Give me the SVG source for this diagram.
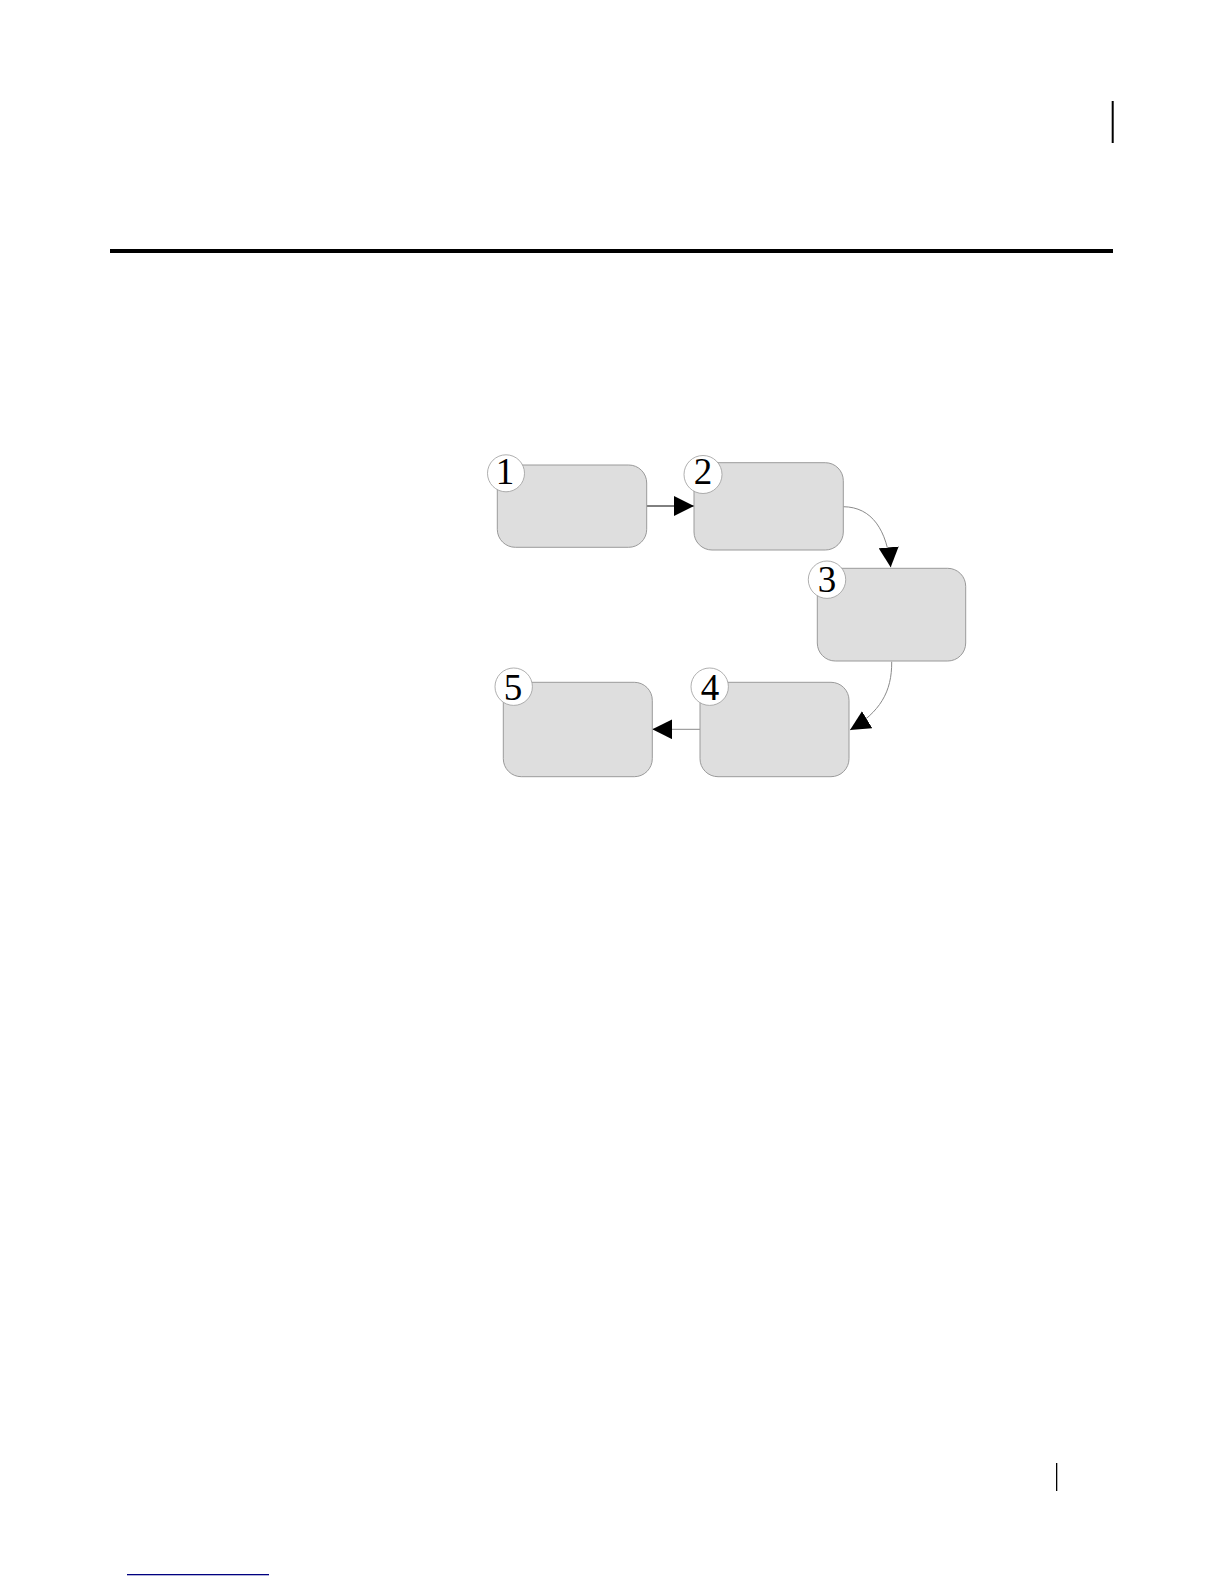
<svg xmlns="http://www.w3.org/2000/svg" width="1224" height="1584" viewBox="0 0 1224 1584">
<style>
.box{fill:#dedede;stroke:#9a9a9a;stroke-width:1}
.badge{fill:#ffffff;stroke:#9a9a9a;stroke-width:0.8}
.num{font-family:"Liberation Serif","Times New Roman",serif;font-size:37px;fill:#000;text-anchor:middle}
.conn{fill:none;stroke:#8a8a8a;stroke-width:1}
.conn.dark{stroke:#000}
</style>
<defs>
<marker id="ah" markerUnits="userSpaceOnUse" markerWidth="20" markerHeight="20" viewBox="0 0 19 19" refX="19" refY="9.5" orient="auto">
<path d="M0,0 L19,9.5 L0,19 Z" fill="#000"/>
</marker>
</defs>
<rect width="1224" height="1584" fill="#ffffff"/>
<g id="page">
<rect x="1111.7" y="101" width="2" height="42" fill="#000"/>
<rect x="110" y="249" width="1003" height="4" fill="#000"/>
<rect x="1056" y="1463" width="1.3" height="28" fill="#000"/>
<rect x="127" y="1574" width="142" height="1.3" fill="#000080"/>
</g>
<g id="connectors">
<path class="conn dark" d="M646.7,506 L694,506" marker-end="url(#ah)"/>
<path class="conn" d="M843.3,506.7 C872,507 887,530 890.7,567.3" marker-end="url(#ah)"/>
<path class="conn" d="M891.7,661.7 C892,692 880,712 850,730" marker-end="url(#ah)"/>
<path class="conn" d="M700,729.3 L652.3,729.3" marker-end="url(#ah)"/>
</g>
<g id="node1">
<rect class="box" x="497.3" y="465" width="149.4" height="82.3" rx="18"/>
<circle class="badge" cx="506" cy="473.3" r="18.5"/>
<text class="num" x="505" y="484">1</text>
</g>
<g id="node2">
<rect class="box" x="694" y="462.7" width="149.3" height="87.3" rx="18"/>
<circle class="badge" cx="703" cy="474.5" r="19"/>
<text class="num" x="703" y="484">2</text>
</g>
<g id="node3">
<rect class="box" x="817.3" y="568.3" width="148.4" height="92.7" rx="18"/>
<circle class="badge" cx="827" cy="579.7" r="18.7"/>
<text class="num" x="827" y="591.7">3</text>
</g>
<g id="node4">
<rect class="box" x="700" y="682.3" width="149" height="94.4" rx="18"/>
<circle class="badge" cx="709.7" cy="686.7" r="18.7"/>
<text class="num" x="710" y="700">4</text>
</g>
<g id="node5">
<rect class="box" x="503.3" y="682.3" width="149" height="94.4" rx="18"/>
<circle class="badge" cx="513.7" cy="686.7" r="18.7"/>
<text class="num" x="513" y="700">5</text>
</g>
</svg>
